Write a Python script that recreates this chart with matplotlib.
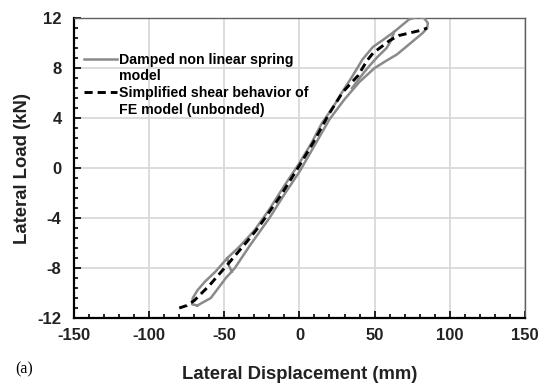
import numpy as np
import matplotlib
matplotlib.use('Agg')
import matplotlib.pyplot as plt
from matplotlib.ticker import MultipleLocator
from matplotlib.lines import Line2D

plt.rcParams['font.family'] = ['Liberation Sans', 'DejaVu Sans']
plt.rcParams['axes.unicode_minus'] = False

# damped non linear spring (hysteresis loop)
spring_x = [-68, -59, -49, -43, -33, -20, -10, 0, 10, 20, 30, 40, 50, 58, 65, 75, 82, 85,
            85.5, 83, 79, 73, 68, 63,
            55, 49, 42, 35, 28, 22, 15, 8, 0, -10, -20, -30, -40, -48, -56, -63, -68, -71, -71.5, -68]
spring_y = [-11.0, -10.4, -8.8, -8.0, -6.2, -4.0, -2.1, -0.3, 1.8, 3.9, 5.5, 6.9, 8.0, 8.6, 9.1, 10.1, 10.8, 11.2,
            11.6, 12.0, 12.1, 11.9, 11.4, 10.9,
            10.2, 9.7, 8.7, 7.3, 6.0, 4.8, 3.6, 2.0, 0.4, -1.4, -3.3, -5.0, -6.3, -7.2, -8.3, -9.1, -9.8, -10.4, -10.9, -11.0]

# inner reversal branches of the smaller cycle
inner_top_x = [63, 61, 58, 52, 46, 40, 35]
inner_top_y = [10.9, 10.2, 9.6, 8.9, 8.1, 7.2, 6.4]
inner_bot_x = [-48, -47, -45]
inner_bot_y = [-7.2, -7.8, -8.3]

# simplified shear behavior of FE model (unbonded)
fe_x = [-80, -75, -70, -60, -47, -35, -27, -13, 0, 9, 20, 29, 39, 45, 49, 60, 66, 73, 80, 85]
fe_y = [-11.2, -11.0, -10.6, -9.4, -7.6, -5.9, -4.7, -2.3, 0.2, 2.0, 4.4, 6.1, 7.4, 8.6, 9.2, 10.2, 10.6, 10.8, 11.0, 11.2]

fig = plt.figure(figsize=(5.41, 3.85), dpi=100)
ax = fig.add_axes([0.137, 0.174, 0.833, 0.779])

gray = '#8a8a8a'
ax.plot(spring_x, spring_y, color=gray, lw=1.8, zorder=3)
ax.plot(inner_top_x, inner_top_y, color=gray, lw=1.8, zorder=3)
ax.plot(inner_bot_x, inner_bot_y, color=gray, lw=1.8, zorder=3)
ax.plot(fe_x, fe_y, color='black', lw=2.1, dashes=(2.8, 1.7), zorder=4)

ax.set_xlim(-150, 150)
ax.set_ylim(-12, 12)
ax.xaxis.set_major_locator(MultipleLocator(50))
ax.xaxis.set_minor_locator(MultipleLocator(10))
ax.yaxis.set_major_locator(MultipleLocator(4))
ax.yaxis.set_minor_locator(MultipleLocator(0.8))
ax.grid(True, which='major', color='#d9d9d9', lw=1.3, zorder=0)
ax.set_axisbelow(True)

ax.tick_params(which='both', direction='in', color='black', width=1.2,
               labelsize=12, top=False, right=False)
ax.tick_params(which='major', length=5)
ax.tick_params(which='minor', length=3)
ax.tick_params(axis='x', which='major', pad=7)
ax.tick_params(axis='y', which='major', pad=9)
for lab in ax.get_xticklabels() + ax.get_yticklabels():
    lab.set_fontweight('bold')
    lab.set_color('#222222')

for s in ['left', 'bottom']:
    ax.spines[s].set_color('black')
    ax.spines[s].set_linewidth(1.6)
for s in ['top', 'right']:
    ax.spines[s].set_color('#606060')
    ax.spines[s].set_linewidth(1.0)

ax.set_xlabel('Lateral Displacement (mm)', fontsize=13.3, fontweight='bold', labelpad=17, color='#222222')
ax.set_ylabel('Lateral Load (kN)', fontsize=13.3, fontweight='bold', labelpad=5, color='#222222')

# legend: handle sits on the first line of each two-line label
h_spring = Line2D([], [], color=gray, lw=1.8)
h_fe = Line2D([], [], color='black', lw=2.1, dashes=(2.8, 1.7))
h_blank = Line2D([], [], color='none')
leg = ax.legend([h_spring, h_blank, h_fe, h_blank],
                ['Damped non linear spring', 'model', 'Simplified shear behavior of', 'FE model (unbonded)'],
                loc='upper left', bbox_to_anchor=(0.022, 0.885), frameon=False,
                borderpad=0, borderaxespad=0,
                handlelength=2.3, handletextpad=0.15, labelspacing=0.2,
                prop={'size': 10.2, 'weight': 'bold'})

fig.text(0.028, 0.03, '(a)', family='Liberation Serif', fontsize=11.5)

fig.savefig('out.png', dpi=100)
